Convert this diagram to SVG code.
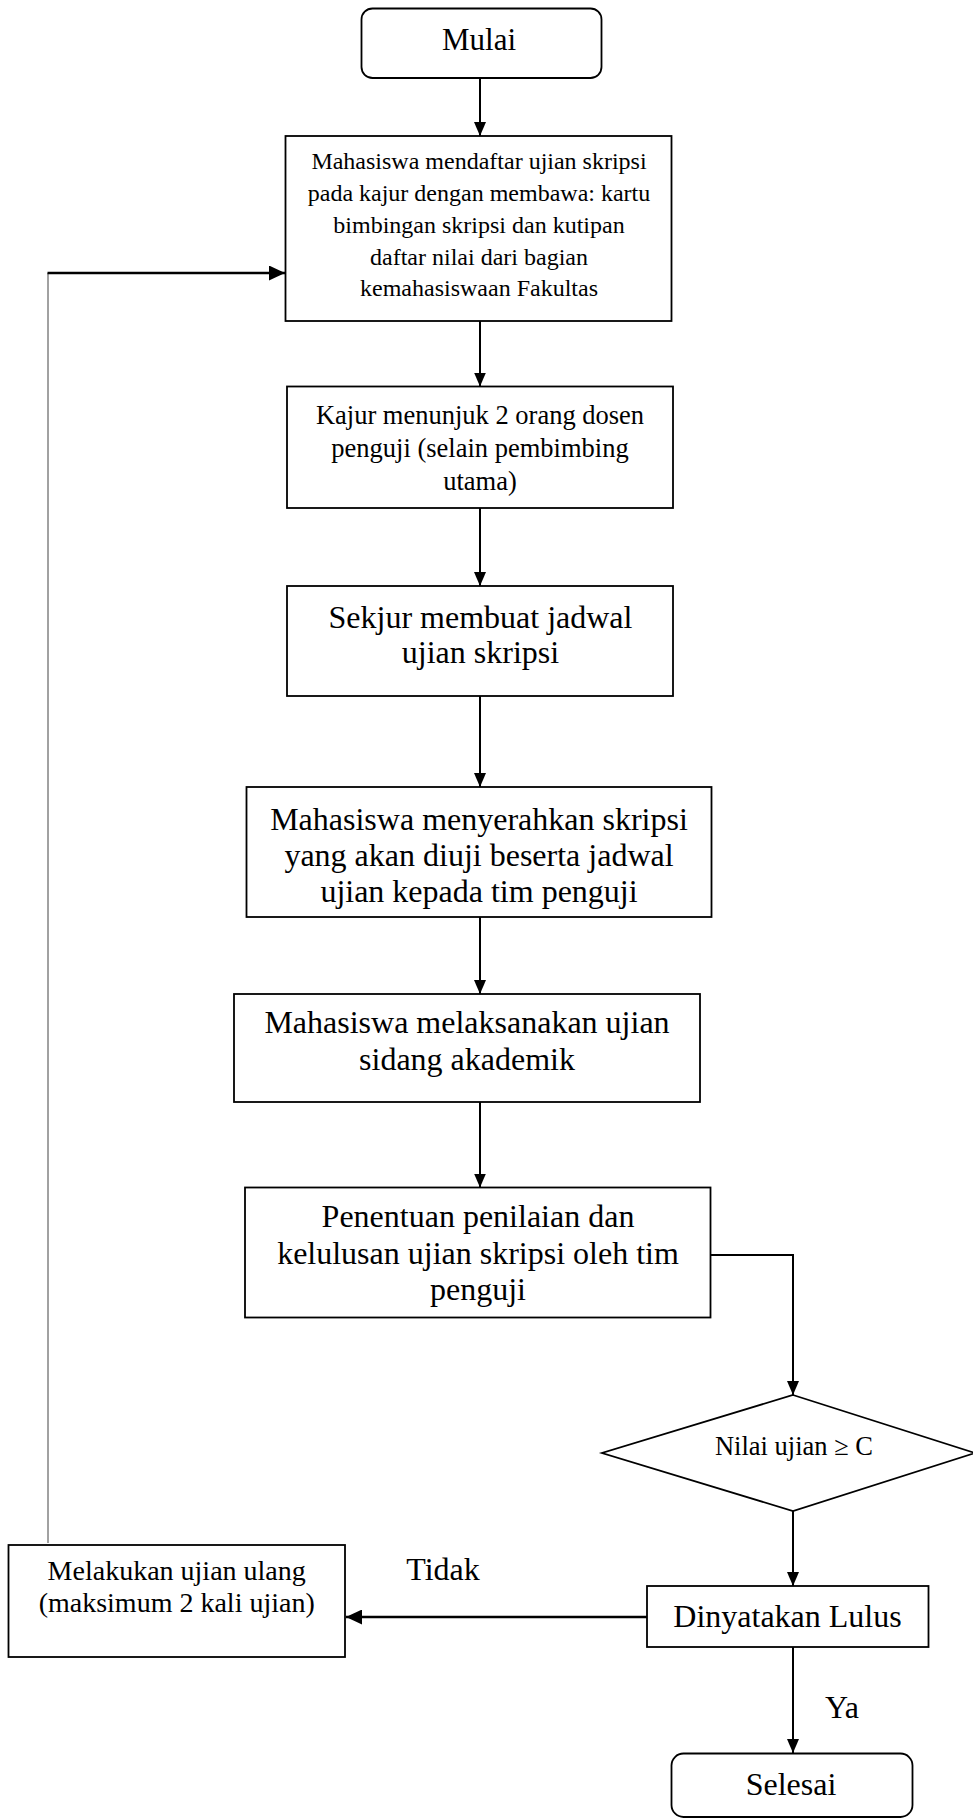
<svg xmlns="http://www.w3.org/2000/svg" width="973" height="1820" viewBox="0 0 973 1820">
<style>
.box{fill:#fff;stroke:#000;stroke-width:1.8}
.t{font-family:"Liberation Serif","Times New Roman",serif;fill:#000;text-anchor:middle}
.f24{font-size:24px}.f26{font-size:26.5px}.f28{font-size:28px}.f31{font-size:31px}.f32{font-size:32px}
.ln{fill:none;stroke:#000;stroke-width:2}
.lnb{fill:none;stroke:#000;stroke-width:2.6}
.thin{fill:none;stroke:#444;stroke-width:1}
</style>
<defs>
<marker id="ah" markerWidth="14" markerHeight="12" refX="14" refY="6" orient="auto" markerUnits="userSpaceOnUse"><path d="M0,0 L14,6 L0,12 z" fill="#000"/></marker>
<marker id="ah2" markerWidth="16" markerHeight="15" refX="16" refY="7.5" orient="auto" markerUnits="userSpaceOnUse"><path d="M0,0 L16,7.5 L0,15 z" fill="#000"/></marker>
</defs>
<rect width="973" height="1820" fill="#fff"/>
<g id="connectors">
<path class="ln" d="M480,78 V136" marker-end="url(#ah)"/>
<path class="ln" d="M480,321 V386.5" marker-end="url(#ah)"/>
<path class="ln" d="M480,508 V586" marker-end="url(#ah)"/>
<path class="ln" d="M480,696 V787" marker-end="url(#ah)"/>
<path class="ln" d="M480,917 V994" marker-end="url(#ah)"/>
<path class="ln" d="M480,1102 V1187.5" marker-end="url(#ah)"/>
<path class="ln" d="M710.5,1255 H793 V1395" marker-end="url(#ah)"/>
<path class="ln" d="M793,1511 V1586" marker-end="url(#ah)"/>
<path class="lnb" d="M647,1617 H346" marker-end="url(#ah2)"/>
<path class="ln" d="M793,1647 V1753" marker-end="url(#ah)"/>
<path class="thin" d="M48,1543 V273"/>
<path class="lnb" d="M47.5,273 H285" marker-end="url(#ah2)"/>
</g>
<g id="mulai">
<rect class="box" x="361.5" y="8.5" width="240" height="69.5" rx="11"/>
<text class="t f31" x="479" y="50">Mulai</text>
</g>
<g id="daftar">
<rect class="box" x="285.5" y="136" width="386" height="185"/>
<text class="t f24" x="479" y="169">Mahasiswa mendaftar ujian skripsi</text>
<text class="t f24" x="479" y="201">pada kajur dengan membawa: kartu</text>
<text class="t f24" x="479" y="233">bimbingan skripsi dan kutipan</text>
<text class="t f24" x="479" y="264.5">daftar nilai dari bagian</text>
<text class="t f24" x="479" y="296">kemahasiswaan Fakultas</text>
</g>
<g id="kajur">
<rect class="box" x="287" y="386.5" width="386" height="121.5"/>
<text class="t f26" x="480" y="424">Kajur menunjuk 2 orang dosen</text>
<text class="t f26" x="480" y="457">penguji (selain pembimbing</text>
<text class="t f26" x="480" y="490">utama)</text>
</g>
<g id="sekjur">
<rect class="box" x="287" y="586" width="386" height="110"/>
<text class="t f32" x="480.5" y="628">Sekjur membuat jadwal</text>
<text class="t f32" x="480.5" y="663">ujian skripsi</text>
</g>
<g id="menyerahkan">
<rect class="box" x="246.5" y="787" width="465" height="130"/>
<text class="t f32" x="479" y="830">Mahasiswa menyerahkan skripsi</text>
<text class="t f32" x="479" y="866">yang akan diuji beserta jadwal</text>
<text class="t f32" x="479" y="902">ujian kepada tim penguji</text>
</g>
<g id="melaksanakan">
<rect class="box" x="234" y="994" width="466" height="108"/>
<text class="t f32" x="467" y="1033">Mahasiswa melaksanakan ujian</text>
<text class="t f32" x="467" y="1070">sidang akademik</text>
</g>
<g id="penentuan">
<rect class="box" x="245" y="1187.5" width="465.5" height="130"/>
<text class="t f32" x="478" y="1227">Penentuan penilaian dan</text>
<text class="t f32" x="478" y="1263.5">kelulusan ujian skripsi oleh tim</text>
<text class="t f32" x="478" y="1300">penguji</text>
</g>
<g id="nilai">
<polygon class="box" points="793,1395 975,1453 793,1511 602,1453"/>
<text class="t f26" x="794" y="1455">Nilai ujian ≥ C</text>
</g>
<g id="lulus">
<rect class="box" x="647" y="1586" width="281.5" height="61"/>
<text class="t f32" x="787.5" y="1627">Dinyatakan Lulus</text>
</g>
<g id="ulang">
<rect class="box" x="8.5" y="1545" width="336.5" height="112"/>
<text class="t f28" x="176.7" y="1580">Melakukan ujian ulang</text>
<text class="t f28" x="176.7" y="1612">(maksimum 2 kali ujian)</text>
</g>
<g id="selesai">
<rect class="box" x="671.5" y="1753.5" width="241" height="63.5" rx="12"/>
<text class="t f32" x="791" y="1795">Selesai</text>
</g>
<g id="labels">
<text class="t f32" x="443" y="1580">Tidak</text>
<text class="t f32" x="842" y="1718">Ya</text>
</g>
</svg>
